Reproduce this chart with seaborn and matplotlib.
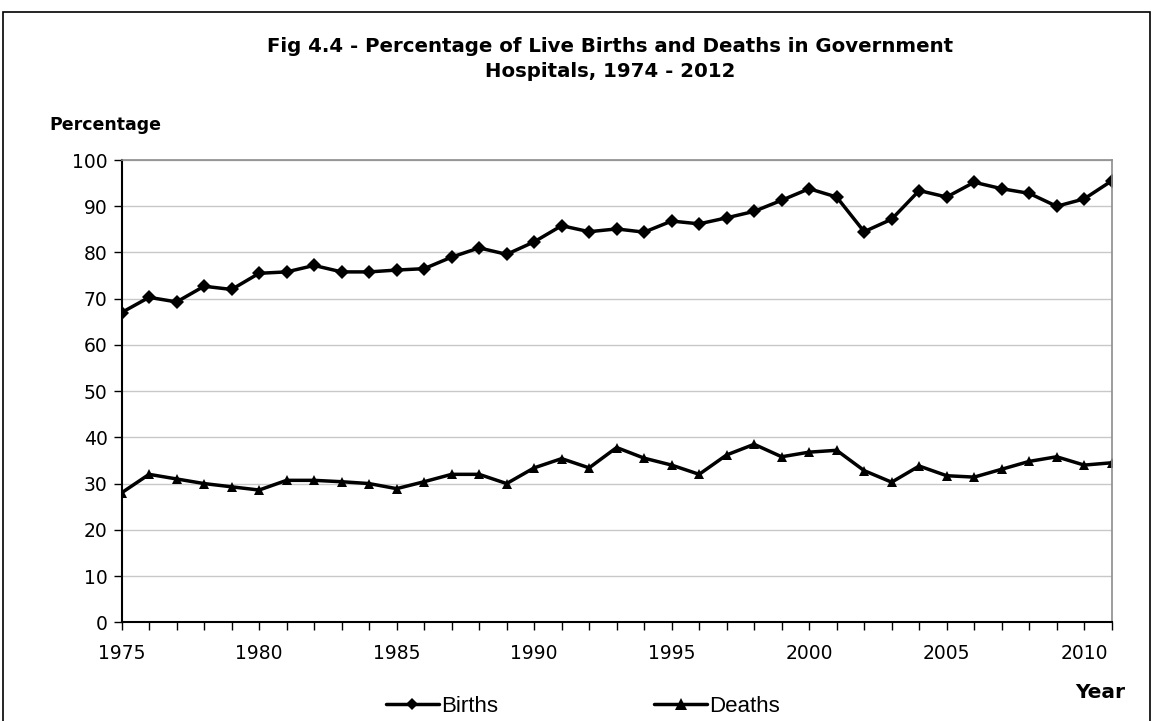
#!/usr/bin/env python3
"""
Percentage of live births and deaths in government hospitals
"""

import pandas as pd
import matplotlib
matplotlib.use('Agg')
import matplotlib.pyplot as plt
from matplotlib.patches import Rectangle
import seaborn as sns

years = list(range(1975, 2012))
births = [67.0, 70.3, 69.3, 72.7, 72.0, 75.5, 75.8, 77.2, 75.8, 75.8,
          76.2, 76.5, 79.0, 81.0, 79.6, 82.3, 85.8, 84.5, 85.1, 84.4,
          86.8, 86.2, 87.5, 88.9, 91.3, 93.8, 92.0, 84.5, 87.2, 93.4,
          92.0, 95.2, 93.8, 92.8, 90.0, 91.6, 95.5]
deaths = [28.0, 32.0, 31.0, 30.0, 29.3, 28.6, 30.7, 30.7, 30.4, 30.0,
          28.9, 30.4, 32.0, 32.0, 30.0, 33.4, 35.4, 33.4, 37.8, 35.5,
          34.0, 32.0, 36.2, 38.5, 35.8, 36.8, 37.2, 32.8, 30.3, 33.8,
          31.7, 31.4, 33.1, 34.8, 35.8, 34.0, 34.5]
series = ['Births', 'Deaths']
year_ticks = [1975, 1980, 1985, 1990, 1995, 2000, 2005, 2010]


# --------------------------------------------------
def main():
    """Draw the chart"""
    df = pd.DataFrame({'Year': years * 2,
                       'Value': births + deaths,
                       'Series': [series[0]] * len(years) + [series[1]] * len(years)})

    sns.set_style('white')
    plt.rcParams['font.family'] = ['DejaVu Sans']
    plt.rcParams['text.color'] = 'black'
    plt.rcParams['xtick.color'] = 'black'
    plt.rcParams['ytick.color'] = 'black'

    fig = plt.figure(figsize=(11.58, 7.21), dpi=100)
    ax = fig.add_axes([0.105, 0.137, 0.855, 0.641])

    sns.lineplot(data=df, x='Year', y='Value', hue='Series', style='Series',
                 markers={'Births': 'D', 'Deaths': '^'}, dashes=False,
                 palette={'Births': 'black', 'Deaths': 'black'},
                 markersize=7, linewidth=2.5, markeredgewidth=0,
                 ax=ax, legend=True)

    ax.set_xlim(1975, 2011)
    ax.set_ylim(0, 100)
    ax.set_yticks(range(0, 101, 10))
    ax.set_xticks(year_ticks)
    ax.set_xticks(years, minor=True)
    ax.tick_params(axis='x', which='both', direction='out', length=6,
                   width=1, color='black', labelcolor='black', bottom=True,
                   labelsize=13.5, pad=10)
    ax.tick_params(axis='y', direction='out', length=6, width=1,
                   color='black', labelcolor='black', left=True,
                   labelsize=13.5, pad=4)
    ax.grid(axis='y', color='#c8c8c8', linewidth=1)
    ax.set_axisbelow(True)
    for side in ['left', 'bottom']:
        ax.spines[side].set_color('black')
        ax.spines[side].set_linewidth(1.5)
    for side in ['top', 'right']:
        ax.spines[side].set_color('#8c8c8c')
        ax.spines[side].set_linewidth(1.2)
    ax.set_xlabel('')
    ax.set_ylabel('')

    # legend: small diamond, bigger triangle, Arial-like text
    handles, labels = ax.get_legend_handles_labels()
    handles[0].set_markersize(6)
    handles[1].set_markersize(8)
    leg = ax.legend(handles, labels, loc='center', bbox_to_anchor=(0.466, -0.182),
                    ncol=2, frameon=False, handlelength=2.4, handletextpad=0.1,
                    columnspacing=7.0, prop={'family': 'Liberation Sans', 'size': 16})
    for t in leg.get_texts():
        t.set_color('black')

    fig.text(0.527, 0.918, 'Fig 4.4 - Percentage of Live Births and Deaths in Government\nHospitals, 1974 - 2012',
             ha='center', va='center', fontsize=14.2, fontweight='bold',
             linespacing=1.4, color='black')
    fig.text(0.043, 0.826, 'Percentage', ha='left', va='center',
             fontsize=12.5, fontweight='bold', color='black')
    fig.text(0.972, 0.04, 'Year', ha='right', va='center', fontsize=14.5,
             fontweight='bold', color='black')

    fig.patches.append(Rectangle((0.003, -0.01), 0.99, 0.993,
                                 transform=fig.transFigure, fill=False,
                                 edgecolor='black', linewidth=1.2))

    fig.savefig('out.png', dpi=100)


# --------------------------------------------------
if __name__ == '__main__':
    main()
